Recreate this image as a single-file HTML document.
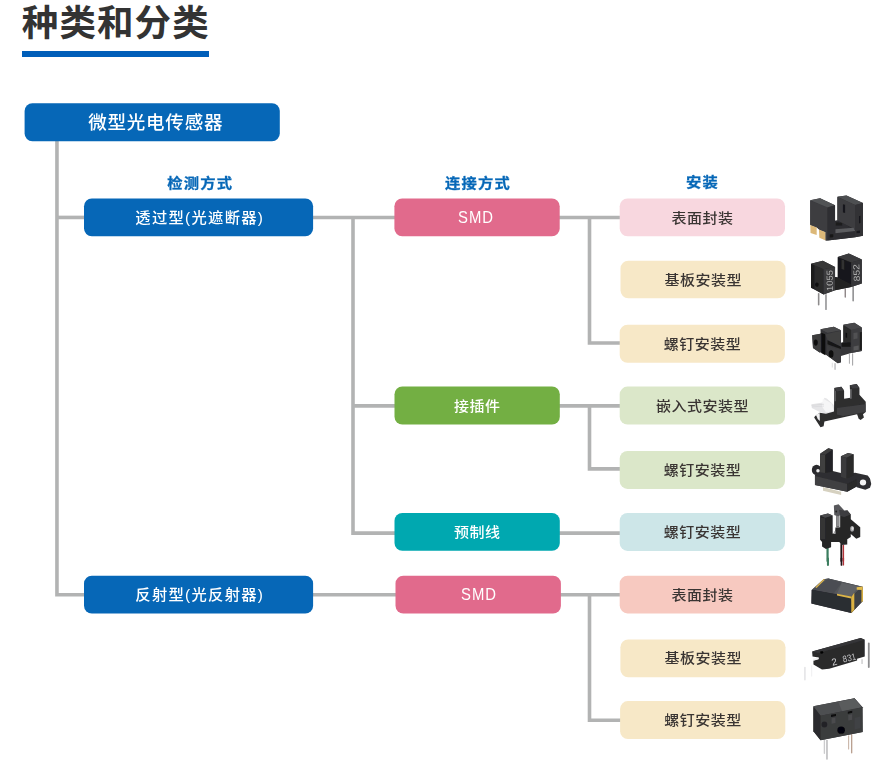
<!DOCTYPE html>
<html lang="zh-CN">
<head>
<meta charset="utf-8">
<title>种类和分类</title>
<style>
html,body{margin:0;padding:0;background:#fff;}
body{width:889px;height:763px;position:relative;overflow:hidden;
  font-family:"Liberation Sans","Noto Sans CJK SC",sans-serif;}
h2.title{position:absolute;left:21.8px;top:-4.3px;margin:0;font-size:36.5px;line-height:56px;
  font-weight:bold;color:#333;white-space:nowrap;letter-spacing:1.1px;}
.rule{position:absolute;left:22px;top:51px;width:187px;height:6px;background:#005eb9;}
.chart{position:absolute;left:0;top:0;width:889px;height:763px;filter:blur(.4px);}
svg.bg,svg.ph{position:absolute;left:0;top:0;}
.bx{position:absolute;font-weight:500;height:37.9px;line-height:38.5px;text-align:center;
  font-size:15px;letter-spacing:.5px;text-indent:.5px;color:#3a3533;white-space:nowrap;}
.b0{color:#fff;font-size:18.5px;letter-spacing:.77px;height:37.8px;line-height:40.8px;text-indent:7.6px;}
.b1{color:#fff;font-size:15.3px;letter-spacing:1.3px;text-indent:2.6px;}
.b2{color:#fff;}
.bx span,.hd span{display:inline-block;text-indent:0;transform:scaleY(.9);transform-origin:50% 50%;}
.b0 span{transform:scaleY(.97);}
.b1 span{transform:scaleY(.93);}
.hd span{transform:scaleY(.905);-webkit-text-stroke:.3px #0667b7;}
.smd span.en{position:relative;top:-.5px;font-weight:400;font-size:16.5px;letter-spacing:1.1px;transform:scaleX(.9);}
.hd{position:absolute;font-size:15.3px;letter-spacing:1.2px;text-indent:1.2px;line-height:20px;font-weight:bold;color:#0667b7;
  text-align:center;white-space:nowrap;}
</style>
</head>
<body>
<h2 class="title">种类和分类</h2>
<div class="rule"></div>

<div class="chart">
<svg class="bg" width="889" height="763" viewBox="0 0 889 763">
  <g fill="none" stroke="#b2b3b3" stroke-width="3.6" stroke-linejoin="miter">
    <path d="M56.95 140V594.8H86"/>
    <path d="M56.95 217.45H86"/>
    <path d="M311 217.45H396"/>
    <path d="M353 217.45V533.1H396"/>
    <path d="M353 405.9H396"/>
    <path d="M311 594.8H397"/>
    <path d="M558 217.45H622"/>
    <path d="M589.5 217.45V343H622"/>
    <path d="M558 405.9H622"/>
    <path d="M589.5 405.9V468.9H622"/>
    <path d="M558 533.1H622"/>
    <path d="M559 594.8H622"/>
    <path d="M589.5 594.8V720.3H622"/>
  </g>
  <rect x="24.6" y="103.3" width="255.2" height="38" rx="7.8" ry="7.8" fill="#0667b7"/>
  <rect x="84" y="198.4" width="229.1" height="37.9" rx="7.8" ry="7.8" fill="#0667b7"/>
  <rect x="84" y="575.7" width="229.1" height="37.9" rx="7.8" ry="7.8" fill="#0667b7"/>
  <rect x="394.4" y="198.4" width="165.3" height="37.9" rx="7.8" ry="7.8" fill="#e16a8c"/>
  <rect x="394.5" y="386.5" width="165.3" height="38" rx="7.8" ry="7.8" fill="#73af43"/>
  <rect x="394.5" y="512.9" width="165.3" height="37.9" rx="7.8" ry="7.8" fill="#00a8b0"/>
  <rect x="395.5" y="575.7" width="165.4" height="37.9" rx="7.8" ry="7.8" fill="#e16a8c"/>
  <rect x="619.7" y="198.4" width="165.3" height="37.9" rx="7.8" ry="7.8" fill="#f8d7df"/>
  <rect x="620.5" y="260.7" width="165" height="37.6" rx="7.8" ry="7.8" fill="#f7e8c7"/>
  <rect x="619.7" y="324.8" width="165.2" height="37.9" rx="7.8" ry="7.8" fill="#f7e8c7"/>
  <rect x="619.7" y="386.6" width="165.3" height="38" rx="7.8" ry="7.8" fill="#dbe7c9"/>
  <rect x="619.7" y="451" width="165.3" height="37.9" rx="7.8" ry="7.8" fill="#dbe7c9"/>
  <rect x="619.7" y="512.9" width="165.3" height="38" rx="7.8" ry="7.8" fill="#cde6e8"/>
  <rect x="619.7" y="575.7" width="165.3" height="37.7" rx="7.8" ry="7.8" fill="#f7c9c0"/>
  <rect x="620.4" y="639.4" width="165.1" height="37.8" rx="7.8" ry="7.8" fill="#f7e8c7"/>
  <rect x="620.1" y="701.1" width="165.2" height="38" rx="7.8" ry="7.8" fill="#f7e8c7"/>
</svg>
  <div class="hd" style="left:149.7px;top:173px;width:100px"><span>检测方式</span></div>
  <div class="hd" style="left:427.3px;top:173px;width:100px"><span>连接方式</span></div>
  <div class="hd" style="left:652px;top:172px;width:100px"><span>安装</span></div>
  <div class="bx b0" style="left:24.7px;top:103.4px;width:254.5px"><span>微型光电传感器</span></div>
  <div class="bx b1" style="left:84.1px;top:198.6px;width:228.8px"><span>透过型(光遮断器)</span></div>
  <div class="bx b1" style="left:84.1px;top:575.8px;width:228.8px"><span>反射型(光反射器)</span></div>
  <div class="bx b2 smd" style="left:394.5px;top:198.6px;width:165.1px"><span class="en" style="left:-1px">SMD</span></div>
  <div class="bx b2 grn" style="left:394.5px;top:386.6px;width:165.2px"><span>接插件</span></div>
  <div class="bx b2 tel" style="left:394.5px;top:513px;width:165.2px"><span>预制线</span></div>
  <div class="bx b2 smd" style="left:395.5px;top:575.7px;width:165.2px"><span class="en" style="left:0.6px">SMD</span></div>
  <div class="bx lp" style="left:619.7px;top:198.6px;width:165.1px"><span>表面封装</span></div>
  <div class="bx ly" style="left:620.4px;top:260.6px;width:165.1px"><span>基板安装型</span></div>
  <div class="bx ly" style="left:619.8px;top:324.9px;width:165.1px"><span>螺钉安装型</span></div>
  <div class="bx lg" style="left:619.8px;top:386.6px;width:165.1px"><span>嵌入式安装型</span></div>
  <div class="bx lg" style="left:619.8px;top:451px;width:165.1px"><span>螺钉安装型</span></div>
  <div class="bx lt" style="left:619.8px;top:512.9px;width:165.1px"><span>螺钉安装型</span></div>
  <div class="bx ls" style="left:619.8px;top:575.7px;width:165.1px"><span>表面封装</span></div>
  <div class="bx ly" style="left:620.5px;top:639.4px;width:165.1px"><span>基板安装型</span></div>
  <div class="bx ly" style="left:620.3px;top:701.1px;width:165.1px"><span>螺钉安装型</span></div>
</div>

<svg class="ph" width="889" height="763" viewBox="0 0 889 763">
<defs><filter id="soft" x="-5%" y="-5%" width="110%" height="110%"><feGaussianBlur stdDeviation="6"/></filter></defs>
<g transform="translate(800,190) scale(0.07874)" filter="url(#soft)">
  <polygon points="130,440 212,472 212,572 134,545" fill="#dcb878"/>
  <polygon points="240,498 326,534 326,642 246,606" fill="#dcb878"/>
  <polygon points="130,130 255,105 445,195 445,392 475,386 475,85 590,70 800,165 800,580 700,600 350,642 326,642 326,534 240,498 212,472 130,440" fill="#323235"/>
  <polygon points="130,132 350,222 350,642 326,642 326,534 240,498 212,472 130,440" fill="#3c3c40"/>
  <polygon points="130,130 255,105 445,195 350,222" fill="#515254"/>
  <polygon points="350,222 445,195 445,520 440,632 350,642" fill="#2f2f32"/>
  <polygon points="475,85 590,70 800,165 700,190" fill="#4e4f51"/>
  <polygon points="475,90 700,190 700,505 475,388" fill="#3d3d40"/>
  <polygon points="700,190 800,165 800,580 700,600" fill="#333336"/>
  <polygon points="445,392 475,386 700,500 700,600 440,632" fill="#2d2d30"/>
  <polygon points="450,500 680,480 702,522 450,548" fill="#5c5d60"/>
  <polygon points="455,408 535,420 535,452 455,450" fill="#1b1b1d"/>
  <polygon points="545,180 573,186 573,292 545,286" fill="#19191b"/>
  <polygon points="750,330 768,326 768,420 750,424" fill="#18181a"/>
  <polygon points="378,565 422,562 422,600 378,604" fill="#131315"/>
  <polygon points="718,520 762,515 762,545 718,550" fill="#19191b"/>
</g>
<g transform="translate(800,250) scale(0.07874)" filter="url(#soft)">
  <line x1="237" y1="555" x2="237" y2="695" stroke="#8d8b8c" stroke-width="20" stroke-linecap="round"/>
  <line x1="330" y1="570" x2="330" y2="752" stroke="#9c9c9e" stroke-width="22" stroke-linecap="round"/>
  <line x1="575" y1="495" x2="575" y2="598" stroke="#8e8687" stroke-width="18" stroke-linecap="round"/>
  <line x1="675" y1="468" x2="675" y2="645" stroke="#8f8f91" stroke-width="20" stroke-linecap="round"/>
  <polygon points="140,175 290,135 445,215 445,342 480,350 480,88 620,45 785,120 785,425 650,470 445,512 300,566 140,480" fill="#29292b"/>
  <polygon points="140,175 290,135 445,215 300,246" fill="#373739"/>
  <polygon points="140,177 185,196 185,500 140,480" fill="#1d1d1f"/>
  <polygon points="185,196 300,246 300,566 185,500" fill="#2a2a2c"/>
  <polygon points="300,246 445,215 445,512 300,566" fill="#3a3a3c"/>
  <polygon points="480,88 620,45 785,120 650,160" fill="#3b3b3d"/>
  <polygon points="480,92 650,160 650,442 480,352" fill="#19191b"/>
  <polygon points="650,160 785,120 785,425 650,470" fill="#363638"/>
  <polygon points="528,120 560,130 560,250 528,240" fill="#303032"/>
  <polygon points="445,342 480,350 650,440 650,470 445,512" fill="#222224"/>
  <ellipse cx="215" cy="440" rx="22" ry="26" fill="#09090a"/>
  <text transform="translate(418,522) rotate(-91)" font-family="Liberation Sans, sans-serif" font-size="112" fill="#b4b4b4" textLength="268" lengthAdjust="spacingAndGlyphs">1055</text>
  <text transform="translate(762,398) rotate(-93)" font-family="Liberation Sans, sans-serif" font-size="112" fill="#adadad" textLength="222" lengthAdjust="spacingAndGlyphs">852</text>
</g>
<g transform="translate(800,315) scale(0.07874)" filter="url(#soft)">
  <line x1="410" y1="612" x2="410" y2="662" stroke="#dcdcdd" stroke-width="12" stroke-linecap="round"/>
  <line x1="445" y1="618" x2="445" y2="690" stroke="#b5b5b7" stroke-width="16" stroke-linecap="round"/>
  <line x1="628" y1="498" x2="628" y2="612" stroke="#b2b2b4" stroke-width="14" stroke-linecap="round"/>
  <line x1="668" y1="492" x2="668" y2="636" stroke="#a6a6a8" stroke-width="14" stroke-linecap="round"/>
  <polygon points="155,258 245,240 262,232 260,182 430,150 520,195 520,352 550,342 550,125 690,100 785,160 785,458 650,482 520,522 520,600 480,612 340,512 262,472 250,476 165,420" fill="#353537"/>
  <polygon points="155,258 245,240 262,250 265,472 250,476 165,420" fill="#3c3c3e"/>
  <polygon points="260,182 430,150 520,195 350,226" fill="#4a4a4c"/>
  <polygon points="270,226 322,246 322,512 270,482" fill="#0f0f11"/>
  <polygon points="322,246 520,200 520,400 350,322" fill="#3f3f41"/>
  <polygon points="350,322 520,402 520,432 350,372" fill="#151517"/>
  <polygon points="340,380 520,440 520,600 480,612 340,512" fill="#3a3a3c"/>
  <polygon points="550,125 690,100 785,160 650,190" fill="#474749"/>
  <polygon points="550,130 650,190 650,382 550,342" fill="#29292b"/>
  <polygon points="650,190 785,160 785,458 650,482" fill="#3e3e40"/>
  <polygon points="760,220 785,215 785,440 760,446" fill="#1b1b1d"/>
  <polygon points="530,355 640,345 645,402 530,402" fill="#171719"/>
  <polygon points="580,225 598,230 598,292 580,286" fill="#0d0d0f"/>
  <ellipse cx="200" cy="350" rx="25" ry="40" fill="#0c0c0d"/>
  <ellipse cx="395" cy="495" rx="30" ry="46" fill="#0a0a0b"/>
  <polygon points="680,230 730,222 730,300 680,308" fill="#515153"/>
  <polygon points="680,400 745,388 745,440 680,452" fill="#58585a"/>
</g>
<g transform="translate(800,375) scale(0.07874)" filter="url(#soft)">
  <polygon points="145,370 290,350 310,290 340,300 430,380 440,470 330,492 250,470 150,420" fill="#e6e6e8"/>
  <polygon points="290,300 400,360 432,462 330,472 280,400" fill="#f6f6f7"/>
  <line x1="150" y1="385" x2="300" y2="372" stroke="#d2d2d4" stroke-width="8" stroke-linecap="round"/>
  <line x1="155" y1="405" x2="300" y2="395" stroke="#d6d6d8" stroke-width="8" stroke-linecap="round"/>
  <polygon points="435,165 525,150 560,200 560,302 640,290 632,130 720,115 755,165 755,250 835,340 835,470 800,500 812,540 770,572 745,556 725,500 310,590 300,650 260,662 180,540 192,520 250,480 330,492 432,462" fill="#2d2d2f"/>
  <polygon points="435,165 525,150 560,198 470,206" fill="#3d3d3f"/>
  <polygon points="632,130 720,115 755,165 665,172" fill="#3d3d3f"/>
  <polygon points="435,200 457,200 457,332 435,332" fill="#5c5c5e"/>
  <polygon points="635,180 657,180 657,302 635,302" fill="#686869"/>
  <polygon points="470,420 830,370 830,470 550,522 470,502" fill="#414143"/>
  <polygon points="202,505 250,482 252,585 225,560" fill="#f1f1f2"/>
</g>
<g transform="translate(800,440) scale(0.07874)" filter="url(#soft)">
  <polygon points="292,596 522,656 522,700 292,644" fill="#d6d1c0"/>
  <ellipse cx="210" cy="380" rx="60" ry="66" fill="#2c2c2e"/>
  <polygon points="255,175 360,105 415,120 415,395 520,420 520,205 610,165 680,180 680,420 700,415 860,450 889,490 905,560 889,605 830,632 720,600 720,592 600,656 190,572 190,440 255,400" fill="#2e2e30"/>
  <polygon points="255,175 360,105 415,120 320,186" fill="#3c3c3e"/>
  <polygon points="255,180 320,190 320,420 255,410" fill="#3f3f41"/>
  <polygon points="320,190 415,125 415,400 320,420" fill="#232325"/>
  <polygon points="520,205 610,165 680,180 590,226" fill="#48484a"/>
  <polygon points="520,210 590,228 590,490 520,470" fill="#3b3b3d"/>
  <polygon points="590,228 680,182 680,452 590,490" fill="#2a2a2c"/>
  <polygon points="190,456 600,560 600,656 190,572" fill="#414143"/>
  <polygon points="600,560 720,500 720,592 600,656" fill="#29292b"/>
  <ellipse cx="228" cy="390" rx="22" ry="22" fill="#ededee"/>
  <ellipse cx="800" cy="540" rx="40" ry="38" fill="#f4f4f5"/>
</g>
<g transform="translate(800,500) scale(0.07874)" filter="url(#soft)">
  <line x1="350" y1="615" x2="350" y2="775" stroke="#3b7d5f" stroke-width="28" stroke-linecap="round" stroke-linecap="butt"/>
  <line x1="525" y1="568" x2="525" y2="775" stroke="#1e1214" stroke-width="24" stroke-linecap="round" stroke-linecap="butt"/>
  <line x1="551" y1="578" x2="551" y2="775" stroke="#b23339" stroke-width="18" stroke-linecap="round" stroke-linecap="butt"/>
  <polygon points="430,70 490,55 560,130 520,190 500,200 500,342 460,346 460,200 435,190" fill="#58595b"/>
  <polygon points="468,205 498,205 498,335 468,335" fill="#8e8e90"/>
  <ellipse cx="460" cy="145" rx="12" ry="13" fill="#222224"/>
  <polygon points="255,198 355,170 415,196 415,430 445,420 450,350 510,345 510,200 520,190 600,130 645,185 645,245 765,345 765,470 715,492 645,432 645,470 600,500 600,566 525,572 500,532 415,532 395,532 395,600 330,622 280,592 280,532 255,506" fill="#262628"/>
  <polygon points="255,198 355,170 415,196 320,226" fill="#4c4c4e"/>
  <polygon points="258,225 320,232 320,500 258,495" fill="#343436"/>
  <polygon points="495,125 560,132 600,130 645,185 560,216 510,200" fill="#3e3e40"/>
  <polygon points="430,398 452,398 452,432 430,432" fill="#a8a8aa"/>
  <ellipse cx="662" cy="365" rx="24" ry="36" fill="#aaaaac"/>
  <ellipse cx="668" cy="360" rx="12" ry="20" fill="#dadadb"/>
</g>
<g transform="translate(800,560) scale(0.07874)" filter="url(#soft)">
  <line x1="355" y1="-20" x2="355" y2="62" stroke="#3b7d5f" stroke-width="26" stroke-linecap="round"/>
  <line x1="527" y1="-20" x2="527" y2="62" stroke="#1e1214" stroke-width="22" stroke-linecap="round"/>
  <line x1="552" y1="-20" x2="552" y2="62" stroke="#b23339" stroke-width="16" stroke-linecap="round"/>
  <polygon points="148,382 300,245 360,235 795,340 798,520 652,672 145,552" fill="#2d2f35"/>
  <polygon points="160,375 300,245 360,235 795,340 650,470" fill="#54565a"/>
  <polygon points="160,375 360,237 530,290 430,422" fill="#4c4e52"/>
  <polygon points="530,290 745,336 650,462 470,430" fill="#606266"/>
  <polygon points="150,380 650,470 652,672 145,552" fill="#2b2d33"/>
  <polygon points="650,470 795,340 798,520 652,672" fill="#3e4044"/>
  <polygon points="650,470 690,415 690,632 652,672" fill="#dcb242"/>
  <polygon points="470,430 650,465 650,488 470,452" fill="#dcb548"/>
  <polygon points="720,345 797,335 797,382 720,378" fill="#e3bc4e"/>
  <polygon points="780,380 800,378 800,520 780,540" fill="#d8b044"/>
  <polygon points="195,345 300,240 316,250 210,356" fill="#d9b34f"/>
</g>
<g transform="translate(795,625) scale(0.08999)" filter="url(#soft)">
  <line x1="110" y1="472" x2="110" y2="608" stroke="#e5e5e7" stroke-width="18" stroke-linecap="round"/>
  <line x1="185" y1="452" x2="185" y2="568" stroke="#eeeeef" stroke-width="10" stroke-linecap="round"/>
  <line x1="745" y1="385" x2="745" y2="428" stroke="#bdbdbf" stroke-width="12" stroke-linecap="round"/>
  <line x1="820" y1="205" x2="820" y2="468" stroke="#8d8d8f" stroke-width="20" stroke-linecap="round"/>
  <polygon points="190,295 730,145 775,165 775,350 690,375 690,395 380,485 300,495 205,440 205,395 262,378 262,360 195,350" fill="#2a2a2c"/>
  <polygon points="190,295 730,145 775,165 262,312" fill="#353537"/>
  <polygon points="198,375 262,360 262,380 205,396" fill="#f1f1f2"/>
  <ellipse cx="297" cy="305" rx="18" ry="15" fill="#050506"/>
  <text transform="translate(418,452) rotate(-14)" font-family="Liberation Sans, sans-serif" font-size="108" fill="#cfcfcf">2</text>
  <text transform="translate(540,418) rotate(-14)" font-family="Liberation Sans, sans-serif" font-size="104" fill="#c6c6c6" textLength="148" lengthAdjust="spacingAndGlyphs">831</text>
</g>
<g transform="translate(800,690) scale(0.09567)" filter="url(#soft)">
  <line x1="255" y1="528" x2="255" y2="662" stroke="#cbcbcd" stroke-width="14" stroke-linecap="round"/>
  <line x1="282" y1="528" x2="282" y2="720" stroke="#bababc" stroke-width="16" stroke-linecap="round"/>
  <line x1="508" y1="478" x2="508" y2="616" stroke="#cbb8ab" stroke-width="12" stroke-linecap="round"/>
  <line x1="540" y1="468" x2="540" y2="656" stroke="#baa191" stroke-width="14" stroke-linecap="round"/>
  <polygon points="140,170 570,85 655,180 655,440 215,525 140,430" fill="#353638"/>
  <polygon points="140,170 570,85 650,180 215,270" fill="#4e4f51"/>
  <polygon points="400,125 570,88 646,180 440,222" fill="#5a5b5d"/>
  <polygon points="215,270 650,180 655,440 215,525" fill="#3b3c3e"/>
  <polygon points="140,175 215,270 215,525 140,430" fill="#2b2b2d"/>
  <polygon points="325,260 376,250 376,271 325,281" fill="#09090b"/>
  <polygon points="500,228 546,218 546,239 500,249" fill="#09090b"/>
  <polygon points="330,296 370,288 370,346 330,353" fill="#4b4c4e"/>
  <polygon points="505,262 545,254 545,312 505,320" fill="#4b4c4e"/>
  <ellipse cx="430" cy="420" rx="40" ry="38" fill="#060607"/>
  <ellipse cx="255" cy="360" rx="30" ry="32" fill="#242426"/>
  <polygon points="570,290 630,278 630,400 570,412" fill="#414244"/>
</g>
</svg>
</body>
</html>
